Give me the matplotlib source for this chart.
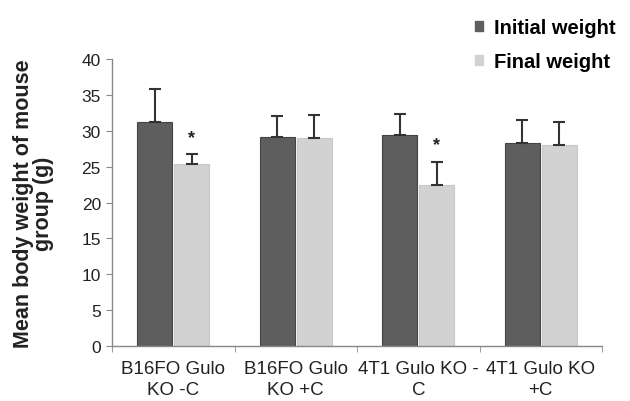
import matplotlib
matplotlib.use("Agg")
import matplotlib.pyplot as plt
import numpy as np
from matplotlib.patches import Patch

plt.rcParams['font.family'] = ['Liberation Sans', 'DejaVu Sans']

categories = ["B16FO Gulo\nKO -C", "B16FO Gulo\nKO +C", "4T1 Gulo KO -\nC", "4T1 Gulo KO\n+C"]
initial = [31.2, 29.1, 29.4, 28.3]
initial_err = [4.6, 3.0, 2.9, 3.2]
final = [25.4, 29.0, 22.4, 28.0]
final_err = [1.3, 3.2, 3.3, 3.2]
significant = [True, False, True, False]
series_names = ["Initial weight", "Final weight"]
yticks = [0, 5, 10, 15, 20, 25, 30, 35, 40]

dark = "#5e5e5e"
light = "#d2d2d2"

fig = plt.figure(figsize=(6.3, 4.02), dpi=100)
ax = fig.add_axes([0.1778, 0.1368, 0.7778, 0.7139])

x = np.arange(len(categories))
w = 0.285
ax.bar(x - w/2 - 0.008, initial, w, color=dark, edgecolor="#444444", linewidth=0.8, zorder=2)
ax.bar(x + w/2 + 0.008, final, w, color=light, edgecolor="#c8c8c8", linewidth=0.8, zorder=2)
ax.errorbar(x - w/2 - 0.008, initial, yerr=[np.zeros(4), initial_err], fmt='none',
            ecolor="#333333", elinewidth=1.5, capsize=4, capthick=1.5, zorder=3)
ax.errorbar(x + w/2 + 0.008, final, yerr=[np.zeros(4), final_err], fmt='none',
            ecolor="#333333", elinewidth=1.5, capsize=4, capthick=1.5, zorder=3)
for i, s in enumerate(significant):
    if s:
        ax.text(x[i] + w/2 + 0.008, final[i] + final_err[i] + 1.2, "*", ha='center', va='bottom',
                fontsize=13, fontweight='bold', color="#222222")

ax.set_xlim(-0.5, len(categories) - 0.5)
ax.set_ylim(0, 40)
ax.set_yticks(yticks)
ax.set_yticklabels([str(t) for t in yticks], fontsize=12.5, color="#222222")
ax.set_xticks(x)
ax.set_xticklabels(categories, fontsize=13.5, color="#222222", linespacing=1.35)
ax.tick_params(axis='x', which='major', length=0, pad=10)
ax.set_xticks(np.arange(len(categories) + 1) - 0.5, minor=True)
ax.tick_params(axis='x', which='minor', length=4, direction='out', color="#888888")
ax.tick_params(axis='y', length=4, direction='out', color="#888888", pad=4)
for sp in ['top', 'right']:
    ax.spines[sp].set_visible(False)
for sp in ['left', 'bottom']:
    ax.spines[sp].set_color("#888888")
    ax.spines[sp].set_linewidth(1.0)

ax.set_ylabel("Mean body weight of mouse\ngroup (g)", fontsize=15.5, fontweight='bold',
              color="#222222", linespacing=0.95)
ax.yaxis.set_label_coords(-0.118, 0.5)

handles = [Patch(facecolor=dark, edgecolor=dark), Patch(facecolor=light, edgecolor=light)]
fig.legend(handles, series_names, loc='upper left', bbox_to_anchor=(0.725, 0.998), frameon=False,
           prop={'size': 14.5, 'weight': 'bold'}, handlelength=0.4, handleheight=0.4,
           handletextpad=0.55, labelspacing=0.75)

fig.savefig("out.png", dpi=100)
